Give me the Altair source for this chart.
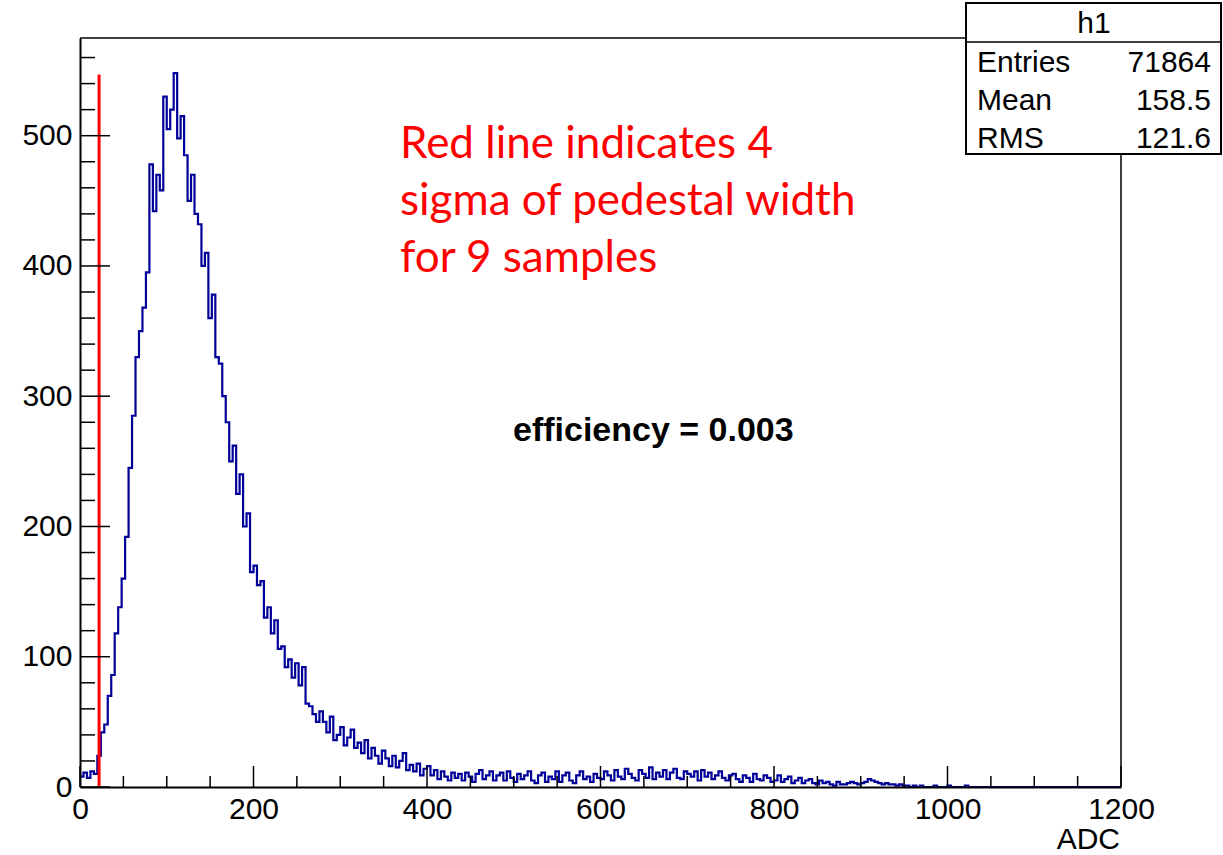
import altair as alt
import pandas as pd

# ---------------- data ----------------
BIN_WIDTH = 4          # ADC units per bin (bin i starts at i*BIN_WIDTH)
X_MAX = 1200
Y_MAX = 575

counts = [
    8, 11, 7, 12, 10, 24, 42, 48, 70, 86,              # 0-39
    118, 138, 160, 192, 245, 285, 330, 350, 368, 395,  # 40-79
    478, 442, 470, 458, 530, 505, 520, 548, 498, 515,  # 80-119
    485, 450, 470, 440, 432, 400, 410, 360, 378, 330,  # 120-159
    325, 300, 280, 250, 262, 225, 240, 200, 210, 165,  # 160-199
    170, 155, 158, 130, 138, 118, 128, 106, 108, 92,   # 200-239
    98, 84, 95, 78, 92, 64, 62, 56, 50, 58,            # 240-279
    50, 42, 54, 36, 40, 46, 32, 38, 44, 30,            # 280-319
    34, 26, 36, 22, 30, 24, 18, 28, 22, 16,            # 320-359
    24, 15, 20, 26, 13, 17, 12, 18, 9, 14,             # 360-399
    16, 9, 13, 6, 12, 8, 5, 11, 7, 10,                 # 400-439
    5, 11, 8, 4, 10, 13, 6, 9, 12, 5,                  # 440-479
    9, 11, 5, 12, 7, 4, 10, 6, 9, 12,                  # 480-519
    5, 3, 9, 11, 4, 8, 6, 12, 4, 9,                    # 520-559
    11, 5, 3, 9, 12, 6, 8, 4, 10, 7,                   # 560-599
    6, 12, 9, 5, 13, 8, 6, 14, 10, 7,                  # 600-639
    5, 13, 10, 7, 15, 6, 11, 8, 13, 6,                 # 640-679
    11, 14, 7, 6, 12, 10, 8, 12, 5, 13,                # 680-719
    8, 11, 6, 9, 12, 7, 5, 9, 10, 6,                   # 720-759
    4, 9, 7, 4, 10, 6, 5, 9, 7, 4,                     # 760-799
    5, 9, 4, 6, 8, 3, 5, 7, 3, 5,                      # 800-839
    6, 3, 2, 5, 3, 4, 2, 1, 4, 2,                      # 840-879
    2, 3, 4, 3, 2, 3, 4, 6, 5, 4,                      # 880-919
    3, 2, 3, 2, 2, 1, 2, 1, 1, 0,                      # 920-959
    1, 0, 1, 0, 0, 0, 1, 0, 0, 0,                      # 960-999
    1, 0, 0, 0, 0, 1, 0, 0, 0, 0,                      # 1000-1039
]

PEDESTAL_CUT = 22      # ADC position of the red line
RED_LINE_TOP = 547     # height of the red line (counts)

x_major = [0, 200, 400, 600, 800, 1000, 1200]
x_minor = [v for v in range(50, 1200, 50) if v % 200 != 0]
y_major = [0, 100, 200, 300, 400, 500]
y_minor = [v for v in range(20, 575, 20) if v % 100 != 0]

stat_names = ["Entries", "Mean", "RMS"]
stat_values = ["71864", "158.5", "121.6"]
stats_title = "h1"
red_note = "Red line indicates 4\nsigma of pedestal width\nfor 9 samples"
eff_note = "efficiency = 0.003"
x_title = "ADC"

# ---------------- layout ----------------
W, H = 1041, 749
FONT = "Liberation Sans"
BLUE = "#000099"
RED = "#ff0000"

hist = pd.DataFrame({
    "adc": [i * BIN_WIDTH for i in range(len(counts))] + [X_MAX],
    "n": counts + [0],
})

xs = alt.Scale(domain=[0, X_MAX], nice=False, zero=False)
ys = alt.Scale(domain=[0, Y_MAX], nice=False)

xaxis = alt.Axis(values=x_major, ticks=False, tickSize=0, grid=False, domain=True,
                 domainColor="black", domainWidth=2, labelFont=FONT, labelFontSize=30,
                 labelColor="black", labelPadding=31, labelBaseline="alphabetic",
                 labelFlush=False, labelOverlap=False, format="d", title=None, zindex=1)
yaxis = alt.Axis(values=y_major, ticks=False, tickSize=0, grid=False, domain=True,
                 domainColor="black", domainWidth=2, labelFont=FONT, labelFontSize=30,
                 labelColor="black", labelPadding=8, labelBaseline="middle",
                 labelFlush=False, labelOverlap=False, format="d", title=None, zindex=1)

line = alt.Chart(hist).mark_line(interpolate="step-after", color=BLUE, strokeWidth=2.2).encode(
    x=alt.X("adc:Q", scale=xs, axis=xaxis),
    y=alt.Y("n:Q", scale=ys, axis=yaxis),
)

red = alt.Chart(pd.DataFrame({"x": [PEDESTAL_CUT], "y0": [0], "y1": [RED_LINE_TOP]})).mark_rule(
    color=RED, strokeWidth=3).encode(
    x=alt.X("x:Q", scale=xs), y=alt.Y("y0:Q", scale=ys), y2="y1:Q")

xmaj = alt.Chart(pd.DataFrame({"v": x_major})).mark_rule(color="black", strokeWidth=1.5).encode(
    x=alt.X("v:Q", scale=xs), y=alt.value(H), y2=alt.value(H - 21))
xmin = alt.Chart(pd.DataFrame({"v": x_minor})).mark_rule(color="black", strokeWidth=1.5).encode(
    x=alt.X("v:Q", scale=xs), y=alt.value(H), y2=alt.value(H - 11))
ymaj = alt.Chart(pd.DataFrame({"v": y_major})).mark_rule(color="black", strokeWidth=1.5).encode(
    y=alt.Y("v:Q", scale=ys), x=alt.value(0), x2=alt.value(30))
ymin = alt.Chart(pd.DataFrame({"v": y_minor})).mark_rule(color="black", strokeWidth=1.5).encode(
    y=alt.Y("v:Q", scale=ys), x=alt.value(0), x2=alt.value(15))

frame_top = alt.Chart(pd.DataFrame({"a": [0]})).mark_rule(color="black", strokeWidth=1.5).encode(
    x=alt.value(0), x2=alt.value(W), y=alt.value(0))
frame_right = alt.Chart(pd.DataFrame({"a": [0]})).mark_rule(color="black", strokeWidth=1.5).encode(
    x=alt.value(W), y=alt.value(0), y2=alt.value(H))

box = alt.Chart(pd.DataFrame({"a": [0]})).mark_rect(fill="white", stroke="black", strokeWidth=2).encode(
    x=alt.value(886), x2=alt.value(1141), y=alt.value(-35), y2=alt.value(116))
box_sep = alt.Chart(pd.DataFrame({"a": [0]})).mark_rule(color="black", strokeWidth=1.5).encode(
    x=alt.value(886), x2=alt.value(1141), y=alt.value(4))
box_title = alt.Chart(pd.DataFrame({"t": [stats_title]})).mark_text(
    font=FONT, fontSize=30, align="center", baseline="alphabetic", color="black").encode(
    text="t:N", x=alt.value(1014), y=alt.value(-5))

stat_layers = []
for i, (nm, vl) in enumerate(zip(stat_names, stat_values)):
    yy = 34 + 38 * i
    stat_layers.append(alt.Chart(pd.DataFrame({"t": [nm]})).mark_text(
        font=FONT, fontSize=30, align="left", baseline="alphabetic", color="black").encode(
        text="t:N", x=alt.value(897), y=alt.value(yy)))
    stat_layers.append(alt.Chart(pd.DataFrame({"t": [vl]})).mark_text(
        font=FONT, fontSize=30, align="right", baseline="alphabetic", color="black").encode(
        text="t:N", x=alt.value(1131), y=alt.value(yy)))

red_text = alt.Chart(pd.DataFrame({"t": [red_note]})).mark_text(
    font="Lato", fontSize=44, align="left", baseline="alphabetic", color=RED,
    lineBreak="\n", lineHeight=57).encode(
    text="t:N", x=alt.value(320), y=alt.value(120))

eff_text = alt.Chart(pd.DataFrame({"t": [eff_note]})).mark_text(
    font=FONT, fontSize=34, fontWeight="bold", align="left", baseline="alphabetic",
    color="black").encode(text="t:N", x=alt.value(433), y=alt.value(403))

adc_text = alt.Chart(pd.DataFrame({"t": [x_title]})).mark_text(
    font=FONT, fontSize=30, align="right", baseline="alphabetic", color="black").encode(
    text="t:N", x=alt.value(1040), y=alt.value(811))

chart = alt.layer(
    line, red, xmaj, xmin, ymaj, ymin, frame_top, frame_right,
    red_text, eff_text, adc_text, box, box_sep, box_title, *stat_layers
).properties(
    width=W, height=H,
    autosize=alt.AutoSizeParams(type="none"),
    padding={"left": 80, "top": 38, "right": 102, "bottom": 68},
    background="white",
).configure_view(stroke=None)

chart.save("out.html", embed_options={"renderer": "svg", "actions": False})
